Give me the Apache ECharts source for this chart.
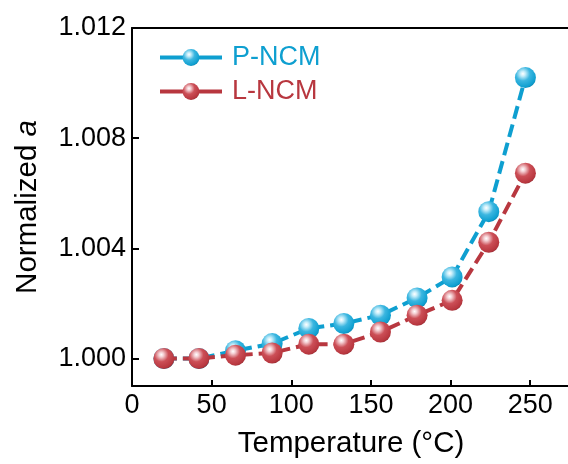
<!DOCTYPE html>
<html>
<head>
<meta charset="utf-8">
<script src="https://cdn.jsdelivr.net/npm/echarts@6/dist/echarts.min.js"></script>
<style>html,body{margin:0;padding:0;background:#fff}#c{width:568px;height:464px}</style>
</head>
<body>
<div id="c"></div>
<script>
const temperatures = [20, 42, 65, 88, 111, 133, 156, 179, 201, 224, 247];
const pNCM = [1.0000, 1.0000, 1.00028, 1.00054, 1.00109, 1.00127, 1.00157, 1.00220, 1.00296, 1.00533, 1.01020];
const lNCM = [1.0000, 1.0000, 1.00012, 1.00020, 1.00052, 1.00052, 1.00096, 1.00157, 1.00211, 1.00422, 1.00673];
const xTicks = [0, 50, 100, 150, 200, 250];
const yTicks = [1.000, 1.004, 1.008, 1.012];
const seriesNames = ['P-NCM', 'L-NCM'];

const FONT = 'Liberation Sans, Arial, sans-serif';
const BLUE = '#0e9fd0';
const RED = '#b8373f';

function sphere(hi, mid, base, dark) {
  return new echarts.graphic.RadialGradient(0.38, 0.32, 0.75, [
    {offset: 0, color: '#ffffff'},
    {offset: 0.15, color: hi},
    {offset: 0.45, color: mid},
    {offset: 0.85, color: base},
    {offset: 1, color: dark}
  ]);
}

const chart = echarts.init(document.getElementById('c'), null, {renderer: 'canvas'});
chart.setOption({
  animation: false,
  backgroundColor: '#fff',
  grid: {left: 132, top: 28, right: -2, bottom: 78, containLabel: false, outerBoundsMode: 'none'},
  legend: {
    orient: 'vertical',
    left: 158,
    top: 44,
    padding: 0,
    itemWidth: 62,
    itemHeight: 21,
    itemGap: 7,
    lineStyle: {type: 'solid', width: 4},
    textStyle: {fontFamily: FONT, fontSize: 27, lineHeight: 21, padding: [0, 0, 0, 5]},
    data: [
      {name: seriesNames[0], textStyle: {color: BLUE}},
      {name: seriesNames[1], textStyle: {color: RED}}
    ]
  },
  xAxis: [{
    type: 'value',
    min: 0,
    max: 275,
    name: 'Temperature (°C)',
    nameLocation: 'middle',
    nameGap: 43,
    nameTextStyle: {fontFamily: FONT, fontSize: 29.5, color: '#000'},
    axisLine: {show: true, onZero: false, lineStyle: {color: '#000', width: 2}},
    axisTick: {show: true, inside: true, length: 6, customValues: xTicks, lineStyle: {color: '#000', width: 2}},
    axisLabel: {customValues: xTicks, fontFamily: FONT, fontSize: 27, color: '#000', margin: 6},
    splitLine: {show: false}
  }, {
    type: 'value',
    position: 'top',
    min: 0,
    max: 275,
    axisLine: {show: true, lineStyle: {color: '#000', width: 2}},
    axisTick: {show: false},
    axisLabel: {show: false},
    splitLine: {show: false}
  }],
  yAxis: {
    type: 'value',
    min: 0.999,
    max: 1.012,
    name: 'Normalized {i|a}',
    nameLocation: 'middle',
    nameGap: 89,
    nameTextStyle: {
      fontFamily: FONT, fontSize: 29.5, color: '#000',
      rich: {i: {fontFamily: FONT, fontSize: 29.5, fontStyle: 'italic', color: '#000'}}
    },
    axisLine: {show: true, onZero: false, lineStyle: {color: '#000', width: 2}},
    axisTick: {show: true, inside: true, length: 7, customValues: yTicks, lineStyle: {color: '#000', width: 2}},
    axisLabel: {
      customValues: yTicks, fontFamily: FONT, fontSize: 27, color: '#000', margin: 6,
      formatter: v => v.toFixed(3)
    },
    splitLine: {show: false}
  },
  series: [
    {
      name: seriesNames[1],
      type: 'line',
      data: temperatures.map((t, i) => [t, lNCM[i]]),
      symbol: 'circle',
      symbolSize: 21,
      z: 3,
      lineStyle: {color: RED, width: 4, type: [13, 6]},
      itemStyle: {color: sphere('#f4cfd3', '#cc4f57', RED, '#8e2a31'), borderWidth: 0}
    },
    {
      name: seriesNames[0],
      type: 'line',
      data: temperatures.map((t, i) => [t, pNCM[i]]),
      symbol: 'circle',
      symbolSize: 21,
      z: 2,
      lineStyle: {color: BLUE, width: 4, type: [13, 6]},
      itemStyle: {color: sphere('#c8eefa', '#3bb6e0', BLUE, '#0a7aa3'), borderWidth: 0}
    }
  ]
});
</script>
</body>
</html>
